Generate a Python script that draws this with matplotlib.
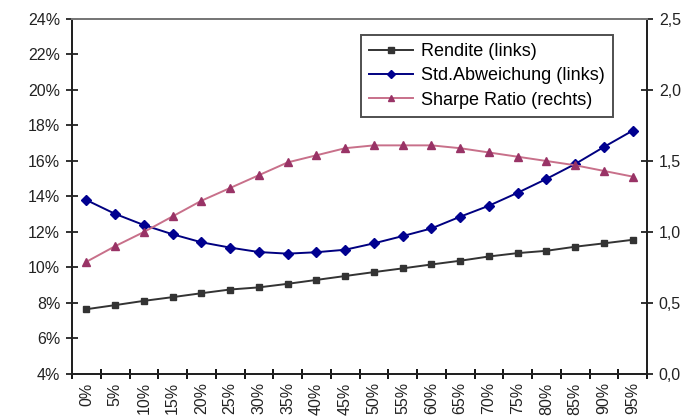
import matplotlib
matplotlib.use("Agg")
import matplotlib.pyplot as plt
from matplotlib.ticker import FuncFormatter, FixedLocator

plt.rcParams['font.family'] = ['Liberation Sans', 'DejaVu Sans']

# Anteil (x-Achse) und Kennzahlen je Gewichtung
anteil = ['0%', '5%', '10%', '15%', '20%', '25%', '30%', '35%', '40%', '45%',
          '50%', '55%', '60%', '65%', '70%', '75%', '80%', '85%', '90%', '95%']
rendite = [7.65, 7.88, 8.12, 8.33, 8.55, 8.76, 8.88, 9.08, 9.30, 9.52,
           9.74, 9.95, 10.17, 10.38, 10.62, 10.81, 10.94, 11.17, 11.36, 11.56]
std_abw = [13.80, 13.02, 12.39, 11.87, 11.42, 11.12, 10.87, 10.78, 10.86, 11.00,
           11.36, 11.77, 12.20, 12.86, 13.48, 14.21, 14.99, 15.83, 16.79, 17.71]
sharpe = [0.79, 0.90, 1.00, 1.11, 1.22, 1.31, 1.40, 1.49, 1.54, 1.59,
          1.61, 1.61, 1.61, 1.59, 1.56, 1.53, 1.50, 1.47, 1.43, 1.39]

fig = plt.figure(figsize=(6.95, 4.19), dpi=100)
ax = fig.add_axes([0.1036, 0.1074, 0.8274, 0.8473])
ax2 = ax.twinx()

x = list(range(len(anteil)))
l1, = ax.plot(x, rendite, color='#333333', lw=1.4, marker='s', ms=4.8,
              mfc='#333333', mec='#333333', label='Rendite (links)')
l2, = ax.plot(x, std_abw, color='#000080', lw=1.4, marker='D', ms=4.6,
              mfc='#000090', mec='#000090', label='Std.Abweichung (links)')
l3, = ax2.plot(x, sharpe, color='#c8708a', lw=1.4, marker='^', ms=6,
               mfc='#993366', mec='#993366', label='Sharpe Ratio (rechts)')

ax.set_xlim(-0.5, len(anteil) - 0.5)
ax.set_ylim(4, 24)
ax.set_yticks(range(4, 25, 2))
ax.yaxis.set_major_formatter(FuncFormatter(lambda v, p: '%d%%' % v))
ax2.set_ylim(0, 2.5)
ax2.set_yticks([0, 0.5, 1.0, 1.5, 2.0, 2.5])
ax2.yaxis.set_major_formatter(FuncFormatter(lambda v, p: ('%.1f' % v).replace('.', ',')))

# Kategorienachse: Beschriftung in der Mitte, Striche zwischen den Kategorien
ax.set_xticks(x)
ax.set_xticklabels(anteil, rotation=90)
ax.tick_params(axis='x', which='major', length=0, pad=6)
ax.xaxis.set_minor_locator(FixedLocator([i - 0.5 for i in range(len(anteil) + 1)]))
ax.tick_params(axis='x', which='minor', direction='inout', length=7, width=1.3)

ax.tick_params(axis='y', direction='inout', length=9, width=1.3, pad=4)
ax2.tick_params(axis='y', direction='inout', length=9, width=1.3, pad=4)
for a in (ax, ax2):
    a.tick_params(labelsize=11.5, colors='#222222')
    for s in a.spines.values():
        s.set_linewidth(1.4)
        s.set_color('#222222')
ax.spines['top'].set_color('#777777')
ax2.spines['top'].set_color('#777777')

leg = ax.legend(handles=[l1, l2, l3], loc='upper left', bbox_to_anchor=(0.503, 0.955),
                fontsize=13, frameon=True, fancybox=False, handlelength=2.4,
                markerscale=0.8, borderpad=0.45, labelspacing=0.4,
                handletextpad=0.45, borderaxespad=0)
leg.get_frame().set_edgecolor('#222222')
leg.get_frame().set_linewidth(1.4)

fig.savefig('out.png', dpi=100)
